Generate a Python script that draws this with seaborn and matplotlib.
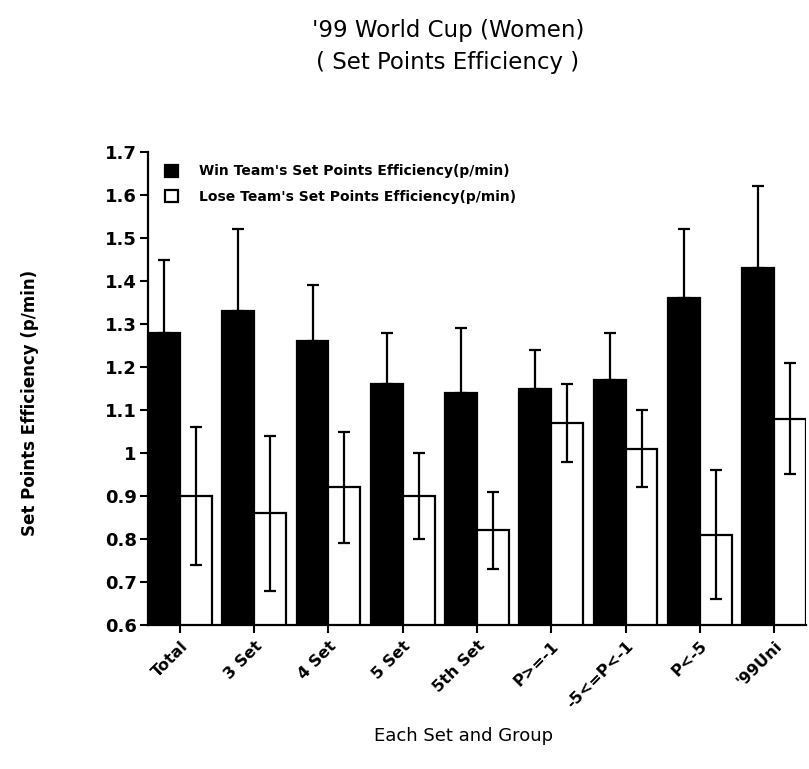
import matplotlib
matplotlib.use("Agg")
import matplotlib.pyplot as plt
import seaborn as sns
import pandas as pd
import numpy as np

categories = ["Total", "3 Set", "4 Set", "5 Set", "5th Set", "P>=-1", "-5<=P<-1", "P<-5", "'99Uni"]
win_values = [1.28, 1.33, 1.26, 1.16, 1.14, 1.15, 1.17, 1.36, 1.43]
win_errors = [0.17, 0.19, 0.13, 0.12, 0.15, 0.09, 0.11, 0.16, 0.19]
lose_values = [0.90, 0.86, 0.92, 0.90, 0.82, 1.07, 1.01, 0.81, 1.08]
lose_errors = [0.16, 0.18, 0.13, 0.10, 0.09, 0.09, 0.09, 0.15, 0.13]
series_names = ["Win Team's Set Points Efficiency(p/min)", "Lose Team's Set Points Efficiency(p/min)"]
y_ticks = [0.6, 0.7, 0.8, 0.9, 1.0, 1.1, 1.2, 1.3, 1.4, 1.5, 1.6, 1.7]

sns.set_style("ticks")
plt.rcParams['font.family'] = ['DejaVu Sans']
plt.rcParams['text.color'] = 'black'
plt.rcParams['axes.labelcolor'] = 'black'
plt.rcParams['xtick.color'] = 'black'
plt.rcParams['ytick.color'] = 'black'

df = pd.DataFrame({
    "cat": categories * 2,
    "val": win_values + lose_values,
    "series": [series_names[0]] * len(categories) + [series_names[1]] * len(categories),
})

fig = plt.figure(figsize=(8.09, 7.69), dpi=100)
ax = fig.add_axes([148/809, 1 - 625/769, (806-148)/809, (625-152)/769])

sns.barplot(data=df, x="cat", y="val", hue="series", order=categories,
            hue_order=series_names, palette=["black", "white"],
            edgecolor="black", linewidth=1.6, width=0.86, ax=ax, errorbar=None,
            saturation=1)

# error bars from the bar patches
patches = [p for p in ax.patches if p.get_height() > 0][:2*len(categories)]
win_patches = patches[:len(categories)]
lose_patches = patches[len(categories):]
wx = [p.get_x() + p.get_width()/2 for p in win_patches]
lx = [p.get_x() + p.get_width()/2 for p in lose_patches]
ax.errorbar(wx, win_values, yerr=[np.zeros(len(win_errors)), win_errors], fmt="none",
            ecolor="black", elinewidth=1.6, capsize=4.5, capthick=1.6)
ax.errorbar(lx, lose_values, yerr=lose_errors, fmt="none",
            ecolor="black", elinewidth=1.6, capsize=4.5, capthick=1.6)

ax.set_ylim(0.6, 1.7)
ax.set_xlim(-0.43, len(categories) - 1 + 0.43)
ax.set_yticks(y_ticks)
ax.set_yticklabels([f"{t:g}" for t in y_ticks], fontsize=13, fontweight="bold")
ax.set_xticks(range(len(categories)))
ax.set_xticklabels(categories, rotation=45, ha="right", rotation_mode="anchor",
                   fontsize=11.5, fontweight="bold")
ax.tick_params(axis="both", direction="out", length=6, width=1.5, color="black")
ax.tick_params(axis="y", pad=2)
for s in ["top", "right"]:
    ax.spines[s].set_visible(False)
for s in ["left", "bottom"]:
    ax.spines[s].set_linewidth(1.6)
    ax.spines[s].set_color("black")

ax.set_ylabel("Set Points Efficiency (p/min)", fontsize=12, fontweight="bold")
ax.yaxis.set_label_coords(-0.165, 0.47)
ax.set_xlabel("Each Set and Group", fontsize=13)
ax.xaxis.set_label_coords(0.48, -0.215)

leg = ax.legend(loc="upper left", bbox_to_anchor=(0.026, 0.974), frameon=False,
                fontsize=10, handlelength=0.95, handleheight=0.95, handletextpad=1.5,
                labelspacing=0.85, borderaxespad=0.0, borderpad=0.0)
for t in leg.get_texts():
    t.set_fontweight("bold")

fig.text(448/809, 1 - 30/769, "'99 World Cup (Women)", ha="center", va="center", fontsize=16.5)
fig.text(448/809, 1 - 62/769, "( Set Points Efficiency )", ha="center", va="center", fontsize=16.5)

fig.savefig("out.png", dpi=100)
